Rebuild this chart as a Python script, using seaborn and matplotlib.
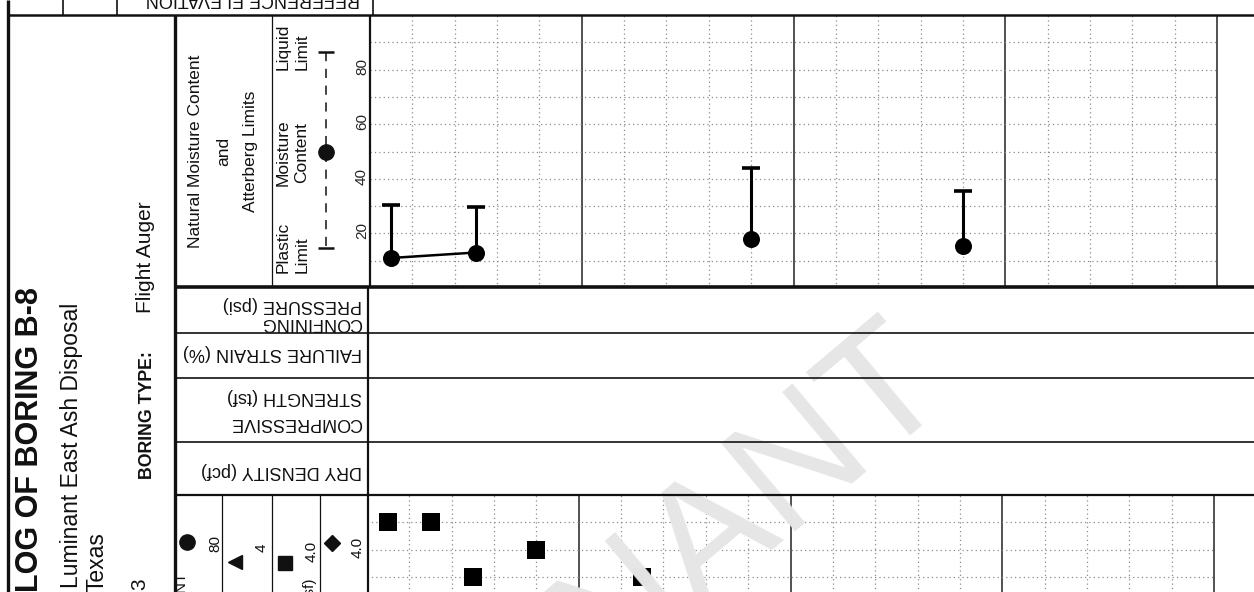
import matplotlib
matplotlib.use("Agg")
import matplotlib.pyplot as plt
import pandas as pd
import seaborn as sns

# Moisture content / Atterberg limit samples (depth in ft, values in %)
mc_depth = [0.5, 2.5, 9.0, 14.0]
moisture = [11.0, 13.0, 18.0, 15.5]
plastic_limit = [12.0, 14.0, 18.5, 16.0]
liquid_limit = [30.5, 29.5, 44.0, 35.5]
mc_group = ["A", "A", "B", "C"]          # consecutive samples joined by a line

# Pocket penetrometer readings (depth in ft, tsf)
pp_depth = [0.5, 1.5, 2.5, 4.0, 6.5]
pocket_pen = [4.5, 4.5, 3.5, 4.0, 3.5]

mc_ticks = [20, 40, 60, 80]
row_labels = [("CONFINING", "PRESSURE (psi)"), ("FAILURE STRAIN (%)",),
              ("COMPRESSIVE", "STRENGTH (tsf)"), ("DRY DENSITY (pcf)",)]

sns.set_theme(style="white")
plt.rcParams["font.family"] = ["Liberation Sans", "DejaVu Sans"]

W, H = 1254, 592
PX_FT = 42.35                 # pixels per foot of depth
fig = plt.figure(figsize=(W / 100, H / 100), dpi=100)
fig.patch.set_facecolor("white")

GRID = dict(color="#8c8c8c", lw=0.9, linestyle=(0, (1, 2.5)))
MAJOR = dict(color="#222222", lw=1.1)


def depth_grid(ax, y0, y1, levels):
    for d in range(1, 21):
        if d % 5:
            ax.vlines(d, y0, y1, **GRID)
        else:
            ax.vlines(d, y0, y1, **MAJOR)
    ax.hlines(levels, 0, 20, **GRID)


# --- moisture content and Atterberg limits panel ---
ax_mc = fig.add_axes([370 / W, (H - 288) / H, (W - 370) / W, 273 / H])
ax_mc.set_xlim(0, (W - 370) / PX_FT)
ax_mc.set_ylim(0, 100)
depth_grid(ax_mc, 0, 100, list(range(10, 100, 10)))

cap = 0.22
ax_mc.vlines(mc_depth, plastic_limit, liquid_limit, color="black", lw=2.2, zorder=4)
ax_mc.hlines(liquid_limit, [d - cap for d in mc_depth], [d + cap for d in mc_depth],
             color="black", lw=2.6, zorder=4)

mc_df = pd.DataFrame({"depth": mc_depth, "mc": moisture, "grp": mc_group})
sns.lineplot(data=mc_df, x="depth", y="mc", units="grp", estimator=None,
             color="black", lw=1.8, ax=ax_mc, legend=False, zorder=5)
sns.scatterplot(data=mc_df, x="depth", y="mc", s=150, color="black",
                linewidth=0, ax=ax_mc, zorder=6, legend=False)

ytr = ax_mc.get_yaxis_transform()
for v in mc_ticks:
    ax_mc.text(-8 / (W - 370), v + 1, str(v), transform=ytr, rotation=90,
               rotation_mode="anchor", ha="center", va="center", fontsize=11)
ax_mc.set_axis_off()

# --- pocket penetrometer panel ---
ax_pp = fig.add_axes([367 / W, 0, (W - 367) / W, 97 / H])
ax_pp.set_xlim(0, (W - 367) / PX_FT)
ax_pp.set_ylim(5.0 - 97 / 54.6, 5.0)
depth_grid(ax_pp, 0, 6, [3.5, 4.0, 4.5])
sns.scatterplot(x=pp_depth, y=pocket_pen, marker="s", s=150, color="black",
                linewidth=0, ax=ax_pp, zorder=5, legend=False)
ax_pp.set_axis_off()

# --- form lines and labels (pixel coordinates) ---
ax = fig.add_axes([0, 0, 1, 1], zorder=10)
ax.set_xlim(0, W)
ax.set_ylim(H, 0)
ax.patch.set_alpha(0)
ax.set_axis_off()

K = "#111111"
ax.hlines(15, 8, W, color=K, lw=1.8)
ax.vlines([63, 117, 373], 0, 15, color=K, lw=1.2)
ax.vlines(8, 0, H, color=K, lw=2.4)
ax.vlines(175, 15, H, color=K, lw=2.4)
ax.vlines(272, 15, 287, color=K, lw=0.9)
ax.vlines(370, 15, 287, color=K, lw=1.6)
ax.vlines(368, 287, H, color=K, lw=1.6)
ax.hlines(287, 175, W, color=K, lw=2.6)
ax.hlines([333, 378, 442], 175, W, color=K, lw=1.2)
ax.hlines(495, 175, W, color=K, lw=1.6)
ax.vlines([222, 272, 320], 495, H, color=K, lw=0.9)

# header strip (cut at the page edge)
ax.text(253, 7, "REFERENCE ELEVATION", rotation=180, rotation_mode="anchor",
        ha="center", va="top", fontsize=13, color=K)

# title block (vertical text, baseline given in pixels)
ax.text(38, 287, "LOG OF BORING B-8", rotation=90, rotation_mode="anchor",
        ha="right", va="baseline", fontsize=22, fontweight="bold", color=K)
ax.text(78, 303, "Luminant East Ash Disposal", rotation=90, rotation_mode="anchor",
        ha="right", va="baseline", fontsize=16.5, color=K)
ax.text(103, 532, "Texas", rotation=90, rotation_mode="anchor",
        ha="right", va="baseline", fontsize=16.5, color=K)
ax.text(145, 578, "3", rotation=90, rotation_mode="anchor",
        ha="right", va="baseline", fontsize=15, color=K)
ax.text(152, 479, "BORING TYPE:", rotation=90, rotation_mode="anchor",
        ha="left", va="baseline", fontsize=12.8, fontweight="bold", color=K)
ax.text(151, 313, "Flight Auger", rotation=90, rotation_mode="anchor",
        ha="left", va="baseline", fontsize=15, color=K)

# moisture panel headings
for xx, s in [(196, "Natural Moisture Content"), (224, "and"), (251, "Atterberg Limits")]:
    ax.text(xx, 151, s, rotation=90, rotation_mode="anchor",
            ha="center", va="center", fontsize=12.5, color=K)
for xx, s in [(283, "Plastic"), (302, "Limit")]:
    ax.text(xx, 273, s, rotation=90, rotation_mode="anchor",
            ha="left", va="center", fontsize=12.5, color=K)
for xx, s in [(283, "Moisture"), (302, "Content")]:
    ax.text(xx, 153, s, rotation=90, rotation_mode="anchor",
            ha="center", va="center", fontsize=12.5, color=K)
for xx, s in [(283, "Liquid"), (302, "Limit")]:
    ax.text(xx, 70, s, rotation=90, rotation_mode="anchor",
            ha="left", va="center", fontsize=12.5, color=K)

# legend symbol: plastic limit - moisture content - liquid limit
ax.vlines(326, 52, 248, color=K, lw=1.1, linestyles=(0, (6, 5)))
ax.hlines([52, 248], 318, 334, color=K, lw=1.8)
ax.plot([326], [152], "o", color=K, ms=11)

# upside-down row headings
row_y = [(305, 322), (352,), (397, 422), (470,)]
for lines, ys in zip(row_labels, row_y):
    for s, yy in zip(lines[::-1], ys):
        ax.text(362, yy, s, rotation=180, rotation_mode="anchor",
                ha="left", va="center", fontsize=13, color=K)

# strength scale legend
ax.text(182, 573, "WATER CONTENT", rotation=90, rotation_mode="anchor",
        ha="right", va="center", fontsize=11, color=K)
ax.plot([187], [542], "o", color=K, ms=11)
ax.text(215, 543, "80", rotation=90, rotation_mode="anchor",
        ha="center", va="center", fontsize=11, color=K)
ax.plot([235], [562], "<", color=K, ms=10)
ax.text(262, 548, "4", rotation=90, rotation_mode="anchor",
        ha="center", va="center", fontsize=11, color=K)
ax.plot([285], [563], "s", color=K, ms=10)
ax.text(312, 551, "4.0", rotation=90, rotation_mode="anchor",
        ha="center", va="center", fontsize=11, color=K)
ax.text(309, 577, "(tsf)", rotation=90, rotation_mode="anchor",
        ha="right", va="center", fontsize=11, color=K)
ax.plot([332], [543], "D", color=K, ms=8)
ax.text(358, 547, "4.0", rotation=90, rotation_mode="anchor",
        ha="center", va="center", fontsize=11, color=K)

# faint diagonal watermark
ax.text(925, 355, "LUMINANT", rotation=40, rotation_mode="anchor",
        ha="right", va="center", fontsize=120, color="#e6e6e6", zorder=-1)

fig.savefig("out.png", dpi=100, facecolor="white")
